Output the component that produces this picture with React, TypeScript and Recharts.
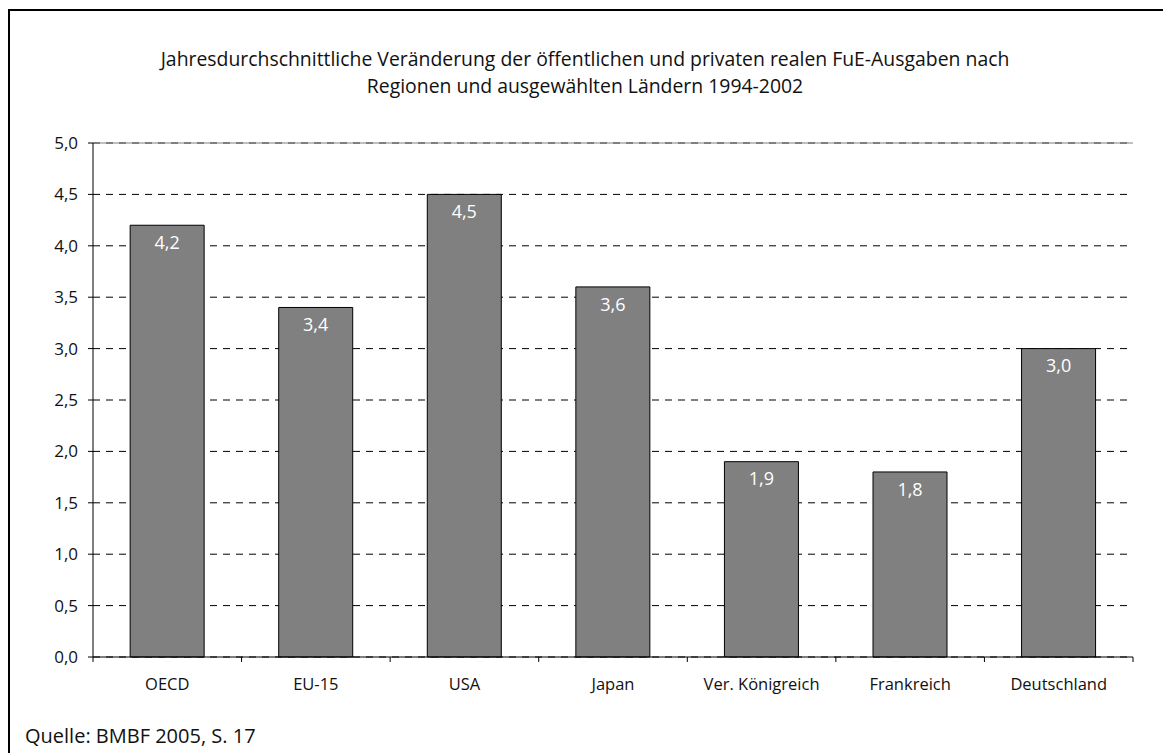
import React from "react";
import { BarChart, Bar, XAxis, YAxis, CartesianGrid, LabelList, ReferenceLine } from "recharts";

const categories = ["OECD", "EU-15", "USA", "Japan", "Ver. Königreich", "Frankreich", "Deutschland"];
const values = [4.2, 3.4, 4.5, 3.6, 1.9, 1.8, 3.0];
const yTicks = [0, 0.5, 1, 1.5, 2, 2.5, 3, 3.5, 4, 4.5, 5];
const titleLines = [
  "Jahresdurchschnittliche Veränderung der öffentlichen und privaten realen FuE-Ausgaben nach",
  "Regionen und ausgewählten Ländern 1994-2002",
];
const sourceText = "Quelle: BMBF 2005, S. 17";

const data = categories.map((name, i) => ({ name, value: values[i] }));

const FONT = "'Open Sans', sans-serif";
const fmt = (v: number) => v.toFixed(1).replace(".", ",");

const W = 1161;
const H = 742;
const margin = { top: 132, right: 38, bottom: 56, left: 23 };
const yAxisWidth = 60;
const plotW = W - margin.left - margin.right - yAxisWidth;
const band = plotW / categories.length;

const CatTick = (props: any) => {
  const { x, y, payload, index } = props;
  const left = x - band / 2;
  return (
    <g>
      <line x1={left} x2={left} y1={y - 8} y2={y - 3} stroke="#000" />
      {index === categories.length - 1 && (
        <line x1={x + band / 2} x2={x + band / 2} y1={y - 8} y2={y - 3} stroke="#000" />
      )}
      <text x={x} y={y + 25} textAnchor="middle" fontFamily={FONT} fontSize={16.5} fill="#111">
        {payload.value}
      </text>
    </g>
  );
};

export default function App() {
  return (
    <div
      style={{
        position: "relative",
        marginTop: 1,
        width: 1161,
        height: 742,
        borderTop: "2px solid #000",
        borderLeft: "2px solid #000",
        background: "#fff",
      }}
    >
      <div
        style={{
          position: "absolute",
          left: 0,
          width: 1150,
          top: 34,
          textAlign: "center",
          fontFamily: FONT,
          fontSize: 19.4,
          lineHeight: "27px",
          color: "#111",
        }}
      >
        {titleLines.map((t) => (
          <div key={t}>{t}</div>
        ))}
      </div>
      <div
        style={{
          position: "absolute",
          left: 15,
          top: 711,
          fontFamily: FONT,
          fontSize: 20,
          color: "#111",
        }}
      >
        {sourceText}
      </div>
      <BarChart width={W} height={H} data={data} margin={margin} barCategoryGap="25%">
        <CartesianGrid horizontal vertical={false} stroke="#000" strokeDasharray="7 6" />
        <ReferenceLine y={5} stroke="#808080" />
        <XAxis
          dataKey="name"
          axisLine={{ stroke: "#000" }}
          tickLine={false}
          tick={<CatTick />}
          interval={0}
          height={40}
        />
        <YAxis
          domain={[0, 5]}
          ticks={yTicks}
          tickFormatter={fmt}
          width={yAxisWidth}
          axisLine={{ stroke: "#000" }}
          tickLine={{ stroke: "#000" }}
          tickSize={5}
          tickMargin={10}
          tick={{ fontFamily: FONT, fontSize: 17, fill: "#111" }}
          interval={0}
        />
        <YAxis
          yAxisId="right"
          orientation="right"
          domain={[0, 5]}
          width={0}
          tick={false}
          tickLine={false}
          axisLine={{ stroke: "#808080" }}
        />
        <Bar dataKey="value" fill="#808080" stroke="#000" strokeWidth={1} isAnimationActive={false}>
          <LabelList
            dataKey="value"
            position="insideTop"
            offset={11}
            formatter={(v: any) => fmt(Number(v))}
            fill="#fff"
            fontFamily={FONT}
            fontSize={18}
          />
        </Bar>
      </BarChart>
    </div>
  );
}
